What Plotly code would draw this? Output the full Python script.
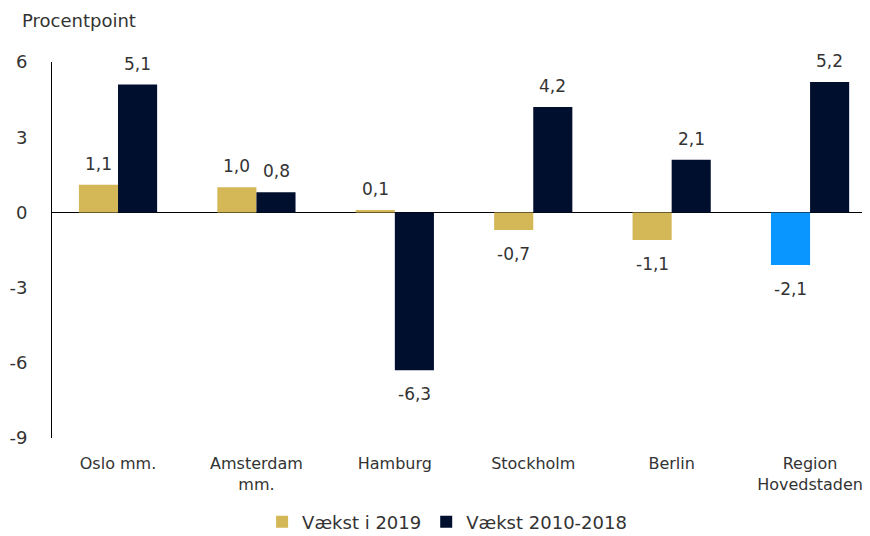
import plotly.graph_objects as go

categories = ["Oslo mm.", "Amsterdam<br>mm.", "Hamburg", "Stockholm", "Berlin", "Region<br>Hovedstaden"]
vaekst_2019 = [1.1, 1.0, 0.1, -0.7, -1.1, -2.1]
vaekst_2010_2018 = [5.1, 0.8, -6.3, 4.2, 2.1, 5.2]
y_ticks = [6, 3, 0, -3, -6, -9]

GOLD = "#D4B756"
NAVY = "#000F2E"
BLUE = "#0A96FF"
TXT = "#333333"
FONT = "DejaVu Sans"
FS = 18

def fmt(v):
    return f"{v:.1f}".replace(".", ",")

gold_colors = [GOLD] * (len(categories) - 1) + [BLUE]

fig = go.Figure()
fig.add_trace(go.Bar(
    x=categories, y=vaekst_2019, name="Vækst i 2019",
    marker=dict(color=gold_colors, line=dict(width=0)),
))
fig.add_trace(go.Bar(
    x=categories, y=vaekst_2010_2018, name="Vækst 2010-2018",
    marker=dict(color=NAVY, line=dict(width=0)),
))

# value labels
BAR_PX = 39.2
annotations = []
for series, dx in ((vaekst_2019, -BAR_PX / 2), (vaekst_2010_2018, BAR_PX / 2)):
    for cat, v in zip(categories, series):
        annotations.append(dict(
            x=cat, y=v, xref="x", yref="y", text=fmt(v), showarrow=False,
            xshift=dx, yshift=21 if v >= 0 else -24,
            xanchor="center", yanchor="middle",
            font=dict(size=FS - 1, color=TXT, family=FONT),
        ))
annotations.append(dict(text="Procentpoint", xref="paper", yref="paper",
                        x=0, y=1, xanchor="left", yanchor="middle",
                        xshift=-32, yshift=42,
                        showarrow=False, font=dict(size=FS, color=TXT, family=FONT)))

fig.update_layout(
    width=862, height=528,
    margin=dict(l=44, r=0, t=54, b=98, autoexpand=False),
    paper_bgcolor="white", plot_bgcolor="white",
    barmode="group", bargap=0.435, bargroupgap=0,
    font=dict(family=FONT, size=FS, color=TXT),
    showlegend=True,
    legend=dict(orientation="h", x=0.483, xanchor="center", y=-84 / 376, yanchor="middle",
                font=dict(size=FS, color=TXT, family=FONT), traceorder="normal",
                itemwidth=30),
    xaxis=dict(type="category", range=[-0.477, 5.433], showline=False, ticks="",
               tickfont=dict(size=FS - 2, color=TXT), showgrid=False, zeroline=False,
               ticklabelstandoff=14),
    yaxis=dict(range=[-9, 6], tickvals=y_ticks, ticktext=[str(t) for t in y_ticks],
               showgrid=False, zeroline=True, zerolinecolor="#000000", zerolinewidth=1,
               showline=True, linecolor="#000000", linewidth=1, ticks="",
               tickfont=dict(size=FS, color=TXT), ticklabelstandoff=20),
    annotations=annotations,
)

fig.write_html("out.html")
